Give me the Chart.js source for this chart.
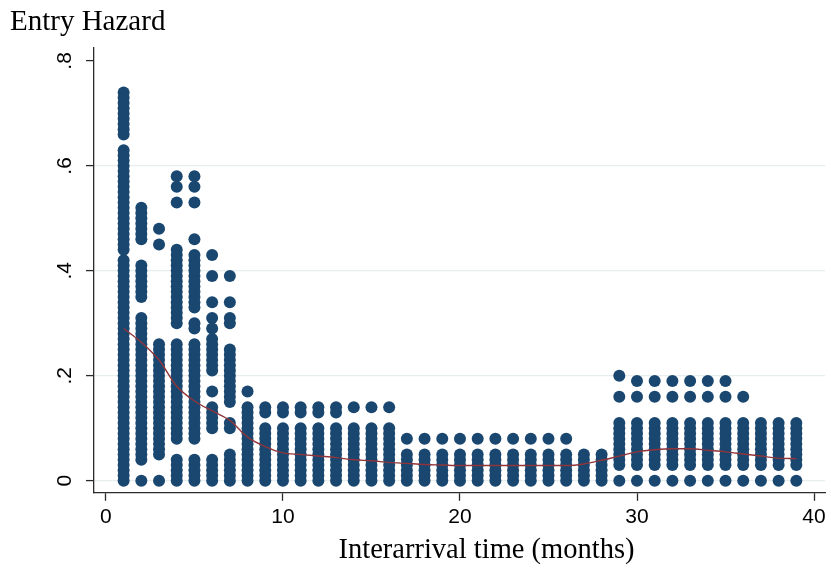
<!DOCTYPE html>
<html>
<head>
<meta charset="utf-8">
<title>Entry Hazard</title>
<script src="https://cdn.jsdelivr.net/npm/chart.js@4/dist/chart.umd.min.js"></script>
<style>
  html, body { margin: 0; padding: 0; background: #fff; }
  #wrap { width: 831px; height: 571px; }
</style>
</head>
<body>
<div id="wrap"><canvas id="hazardCanvas"></canvas></div>
<script>
const months = [1, 2, 3, 4, 5, 6, 7, 8, 9, 10, 11, 12, 13, 14, 15, 16, 17, 18, 19, 20,
  21, 22, 23, 24, 25, 26, 27, 28, 29, 30, 31, 32, 33, 34, 35, 36, 37, 38, 39];

// observed entry hazard at each interarrival month, in hundredths
const hazardByMonth = [
  [0,1,2,3,4,5,6,7,8,9,10,11,12,13,14,15,16,17,18,19,20,21,22,23,24,25,26,27,28,29,30,31,32,33,34,35,36,37,38,39,40,41,42,44,45,46,47,48,49,50,51,52,53,54,55,56,57,58,59,60,61,62,63,66,67,68,69,70,71,72,73,74],
  [0,4,5,6,7,8,9,10,11,12,13,14,15,16,17,18,19,20,21,22,23,24,25,26,27,28,29,30,31,35,36,37,38,39,40,41,46,47,48,49,50,51,52],
  [0,5,6,7,8,9,10,11,12,13,14,15,16,17,18,19,20,21,22,23,24,25,26,45,48],
  [0,1,2,3,4,8,9,10,11,12,13,14,15,16,17,18,19,20,21,22,23,24,25,26,30,31,32,33,34,35,36,37,38,39,40,41,42,43,44,53,56,58],
  [0,1,2,3,4,8,9,10,11,12,13,14,15,16,17,18,19,20,21,22,23,24,25,26,29,30,33,34,35,36,37,38,39,40,41,42,43,46,53,56,58],
  [0,1,2,3,4,10,11,12,13,14,17,21,22,23,24,25,26,27,29,31,34,39,43],
  [0,1,2,3,4,5,10,11,15,16,17,18,19,20,21,22,23,24,25,30,31,34,39],
  [0,1,2,3,4,5,6,7,8,9,10,11,12,13,14,17],
  [0,1,2,3,4,5,6,7,8,9,10,13,14],
  [0,1,2,3,4,5,6,7,8,9,10,13,14],
  [0,1,2,3,4,5,6,7,8,9,10,13,14],
  [0,1,2,3,4,5,6,7,8,9,10,13,14],
  [0,1,2,3,4,5,6,7,8,9,10,13,14],
  [0,1,2,3,4,5,6,7,8,9,10,14],
  [0,1,2,3,4,5,6,7,8,9,10,14],
  [0,1,2,3,4,5,6,7,8,9,10,14],
  [0,1,2,3,4,5,8],
  [0,1,2,3,4,5,8],
  [0,1,2,3,4,5,8],
  [0,1,2,3,4,5,8],
  [0,1,2,3,4,5,8],
  [0,1,2,3,4,5,8],
  [0,1,2,3,4,5,8],
  [0,1,2,3,4,5,8],
  [0,1,2,3,4,5,8],
  [0,1,2,3,4,5,8],
  [0,1,2,3,4,5],
  [0,1,2,3,4,5],
  [0,3,4,5,6,7,8,9,10,11,16,20],
  [0,3,4,5,6,7,8,9,10,11,16,19],
  [0,3,4,5,6,7,8,9,10,11,16,19],
  [0,3,4,5,6,7,8,9,10,11,16,19],
  [0,3,4,5,6,7,8,9,10,11,16,19],
  [0,3,4,5,6,7,8,9,10,11,16,19],
  [0,3,4,5,6,7,8,9,10,11,16,19],
  [0,3,4,5,6,7,8,9,10,11,16],
  [0,3,4,5,6,7,8,9,10,11],
  [0,3,4,5,6,7,8,9,10,11],
  [0,3,4,5,6,7,8,9,10,11]
];

// smoothed (lowess) hazard, one value per month
const smoothHazard = [0.29, 0.264, 0.23, 0.18, 0.152, 0.133, 0.115, 0.083, 0.065, 0.053,
  0.05, 0.047, 0.044, 0.04, 0.038, 0.035, 0.033, 0.031, 0.03, 0.029,
  0.029, 0.029, 0.029, 0.029, 0.029, 0.029, 0.032, 0.039, 0.047, 0.055,
  0.059, 0.061, 0.061, 0.058, 0.055, 0.051, 0.047, 0.043, 0.042];

const xTicks = [0, 10, 20, 30, 40];
const yTicks = [0, 0.2, 0.4, 0.6, 0.8];
const yTickLabels = ['0', '.2', '.4', '.6', '.8'];
const xTitle = 'Interarrival time (months)';

const scatterPoints = [];
months.forEach((m, i) => {
  hazardByMonth[i].forEach(v => scatterPoints.push({ x: m, y: v / 100 }));
});
const smoothPoints = months.map((m, i) => ({ x: m, y: smoothHazard[i] }));

const axisColor = '#2b2b2b';
const tickFont = { family: "'Liberation Sans Narrow', 'Liberation Sans', Arial, sans-serif", size: 21 };
const serif = "'Liberation Serif', 'Times New Roman', serif";

// x axis title sits a little right of the plot centre, as in the Stata graph
const xTitlePlugin = {
  id: 'xTitle',
  afterDraw(chart) {
    const { ctx, chartArea } = chart;
    ctx.save();
    ctx.fillStyle = '#000';
    ctx.font = '28.5px ' + serif;
    ctx.textAlign = 'center';
    ctx.textBaseline = 'middle';
    ctx.fillText(xTitle, (chartArea.left + chartArea.right) / 2 + 27, chart.height - 20);
    ctx.restore();
  }
};

new Chart(document.getElementById('hazardCanvas'), {
  type: 'scatter',
  data: {
    datasets: [{
      type: 'line',
      label: 'lowess',
      data: smoothPoints,
      borderColor: '#90353b',
      borderWidth: 1.4,
      pointRadius: 0,
      fill: false,
      cubicInterpolationMode: 'monotone',
      order: 0
    }, {
      label: 'hazard',
      data: scatterPoints,
      backgroundColor: '#1a476f',
      borderWidth: 0,
      pointRadius: 6,
      order: 1
    }]
  },
  plugins: [xTitlePlugin],
  options: {
    responsive: true,
    maintainAspectRatio: false,
    animation: false,
    events: [],
    layout: {
      padding: { left: 10, right: 2, top: 0, bottom: 37 }
    },
    plugins: {
      legend: { display: false },
      tooltip: { enabled: false },
      title: {
        display: true,
        text: 'Entry Hazard',
        align: 'start',
        color: '#000',
        font: { family: serif, size: 29, weight: 'normal' },
        padding: { top: 5, bottom: 8 }
      }
    },
    scales: {
      x: {
        type: 'linear',
        min: -0.674,
        max: 40.62,
        afterBuildTicks: s => { s.ticks = xTicks.map(v => ({ value: v })); },
        ticks: {
          color: '#000',
          font: tickFont,
          padding: 4,
          maxRotation: 0,
          callback: v => String(v)
        },
        grid: {
          drawOnChartArea: false,
          tickLength: 8,
          tickColor: axisColor,
          tickWidth: 1.3
        },
        border: { display: true, color: axisColor, width: 1.3 }
      },
      y: {
        type: 'linear',
        min: -0.023,
        max: 0.825,
        afterBuildTicks: s => { s.ticks = yTicks.map(v => ({ value: v })); },
        afterFit: s => { s.width = 84; },
        ticks: {
          color: '#000',
          font: tickFont,
          padding: 12,
          minRotation: 90,
          maxRotation: 90,
          crossAlign: 'center',
          callback: v => yTickLabels[yTicks.indexOf(v)]
        },
        grid: {
          color: ctx => (ctx.tick && ctx.tick.value === 0.8) ? 'rgba(0,0,0,0)' : '#e6eef0',
          lineWidth: 1.2,
          tickLength: 8,
          tickColor: axisColor,
          tickWidth: 1.3
        },
        border: { display: true, color: axisColor, width: 1.3 }
      }
    }
  }
});
</script>
</body>
</html>
